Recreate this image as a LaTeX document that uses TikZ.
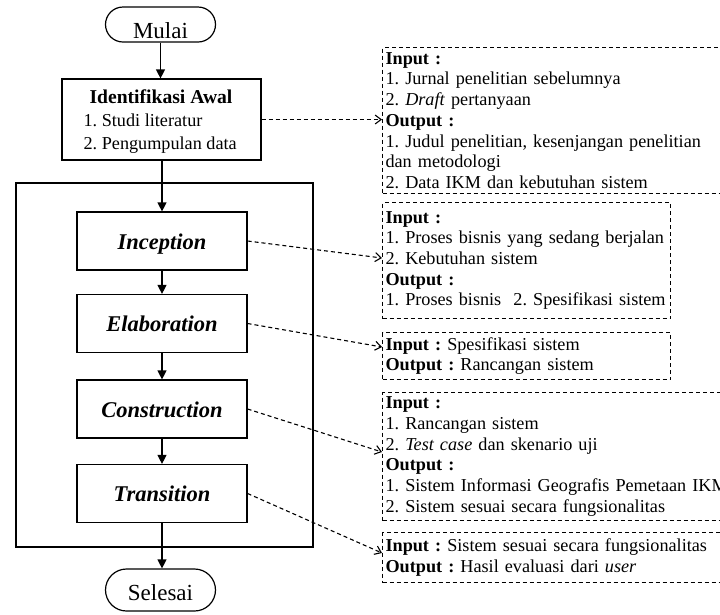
\documentclass[tikz,border=0pt]{standalone}
\usepackage{fontspec}
\setmainfont{Liberation Serif}
\usetikzlibrary{arrows.meta,shapes.misc,calc}
\frenchspacing
\hyphenpenalty=10000
\begin{document}
\begin{tikzpicture}[x=1pt,y=-1pt,
  line width=1.2pt,
  term/.style={draw, rounded rectangle, minimum width=110pt, inner sep=0pt, text depth=0pt, font=\fontsize{23}{27}\selectfont},
  procbox/.style={draw, inner sep=0pt},
  phase/.style={draw, minimum width=170pt, minimum height=58pt, inner sep=0pt, text height=16pt, text depth=0pt, font=\fontsize{22.5}{26}\selectfont\bfseries\itshape},
  flow/.style={-{Triangle[length=9pt,width=9pt]}},
  iobox/.style={draw, dash pattern=on 4pt off 3pt, line width=1.1pt, anchor=north west, align=left, inner xsep=3pt, inner ysep=0pt, font=\fontsize{18.2}{20.7}\selectfont},
  ioarrow/.style={dash pattern=on 4pt off 3pt, line width=1.1pt, -{Straight Barb[length=6pt,width=9pt]}},
  item/.style={anchor=base west, inner sep=0pt, font=\fontsize{18.2}{21}\selectfont}
]
\useasboundingbox (0,0) rectangle (720,614);

% left flow
\node[term, minimum height=35pt, text height=28pt] (mulai) at (160.5,24.5) {Mulai};
\node[procbox, minimum width=199pt, minimum height=81pt] (ident) at (161.5,119.5) {};
\node[anchor=base, inner sep=0pt, font=\fontsize{19.6}{22}\selectfont\bfseries] (identT) at (161,103.5) {Identifikasi Awal};
\node[item] (identA) at (83,126) {1. Studi literatur};
\node[item] (identB) at (83,149) {2. Pengumpulan data};

\node[procbox, minimum width=297pt, minimum height=364pt] (frame) at (164.5,365) {};

\node[phase] (incep) at (162,241) {Inception};
\node[phase] (elab) at (162,323.5) {Elaboration};
\node[phase] (cons) at (162,409) {Construction};
\node[phase] (trans) at (162,493.5) {Transition};

\node[term, minimum height=42pt, text height=20pt] (selesai) at (160.5,590) {Selesai};

\draw[flow] (mulai.south) -- (mulai.south |- ident.north);
\draw[flow] (ident.south -| incep.north) -- (incep.north);
\draw[flow] (incep.south) -- (elab.north);
\draw[flow] (elab.south) -- (cons.north);
\draw[flow] (cons.south) -- (trans.north);
\draw[flow] (trans.south) -- (trans.south |- selesai.north);

% right boxes
\node[iobox, text width=400pt, minimum height=146pt] (box1) at (382,47) {%
\textbf{Input :}\\
1. Jurnal penelitian sebelumnya\\
2. \textit{Draft} pertanyaan\\
\textbf{Output :}\\
1. Judul penelitian, kesenjangan penelitian\\
dan metodologi\\
2. Data IKM dan kebutuhan sistem};

\node[iobox, text width=282pt, minimum height=116pt] (box2) at (382,202) {%
\textbf{Input :}\\
1. Proses bisnis yang sedang berjalan\\
2. Kebutuhan sistem\\
\textbf{Output :}\\
1. Proses bisnis\ \ 2. Spesifikasi sistem};

\node[iobox, text width=282pt, minimum height=47pt] (box3) at (382,332) {%
\textbf{Input :} Spesifikasi sistem\\
\textbf{Output :} Rancangan sistem};

\node[iobox, text width=400pt, minimum height=128pt] (box4) at (382,392) {%
\textbf{Input :}\\
1. Rancangan sistem\\
2. \textit{Test case} dan skenario uji\\
\textbf{Output :}\\
1. Sistem Informasi Geografis Pemetaan IKM\\
2. Sistem sesuai secara fungsionalitas};

\node[iobox, text width=400pt, minimum height=50pt] (box5) at (382,532) {%
\textbf{Input :} Sistem sesuai secara fungsionalitas\\
\textbf{Output :} Hasil evaluasi dari \textit{user}};

% dashed connectors
\draw[ioarrow] (ident.east) -- (ident.east -| box1.west);
\draw[ioarrow] (incep.east) -- ($(box2.north west)+(0,56)$);
\draw[ioarrow] (elab.east) -- ($(box3.north west)+(0,15)$);
\draw[ioarrow] (cons.east) -- ($(box4.north west)+(0,60)$);
\draw[ioarrow] (trans.east) -- ($(box5.north west)+(0,21)$);
\end{tikzpicture}
\end{document}
